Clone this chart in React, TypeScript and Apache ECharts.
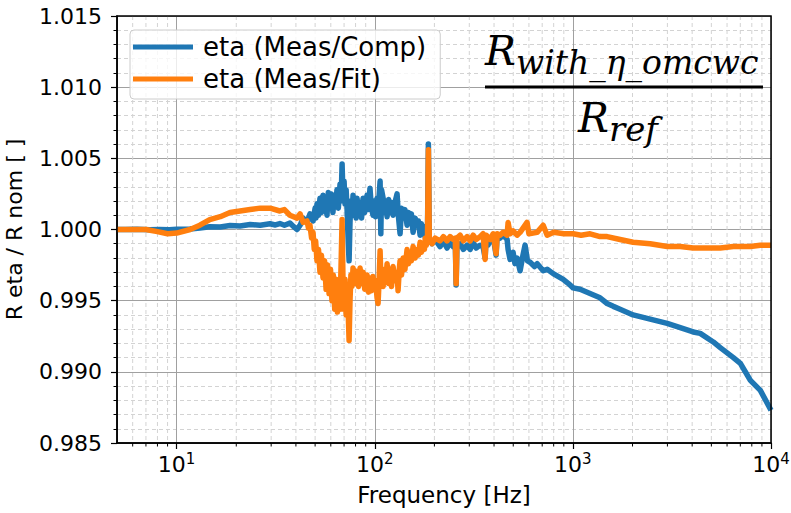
import React, { useEffect, useRef } from "react";
import * as echarts from "echarts";

// ---------- data ----------
const seriesNames = ["eta (Meas/Comp)", "eta (Meas/Fit)"];

// [frequency Hz, R eta / R nom]
const measComp: [number, number][] = [
  [5, 1.0], [5.5, 1.0], [6.3, 1.00002], [7.3, 0.99998], [8.2, 1.0], [9.2, 0.99998],
  [10, 1.00002], [11.7, 1.00003], [13.1, 1.0001], [14.7, 1.0002], [16.6, 1.00018],
  [18.6, 1.00028], [20.9, 1.00025], [23.5, 1.00035], [26.4, 1.0003], [29.6, 1.0004],
  [31.5, 1.00032], [33.2, 1.00042], [35.0, 1.0003], [37.3, 1.00045], [39.0, 1.0002],
  [40.5, 1.0], [42.0, 1.0003], [43.5, 1.0008], [45.5, 1.0005], [47.1, 1.0011],
  [48.8, 1.0006], [50, 1.0015], [50.5, 1.0008], [51.1, 1.0018], [52, 1.001],
  [52.9, 1.0022], [53.8, 1.0012], [54.8, 1.0024], [55.5, 1.0013], [56.2, 1.002],
  [57.4, 1.001], [58.3, 1.0026], [59.4, 1.0015], [60.4, 1.0025], [61.5, 1.0012],
  [62.3, 1.0022], [63.2, 1.0016], [64.5, 1.0028], [65.5, 1.0015], [66.8, 1.0032],
  [67.6, 1.002], [68.4, 1.0046], [69.2, 1.0022], [70, 1.0034], [70.8, 1.0018],
  [71.7, 1.0028], [72.5, 1.0014], [73.5, 0.999], [74.2, 0.9978], [75, 1.0005],
  [75.8, 1.002], [76.8, 1.0012], [77.7, 1.0024], [78.6, 1.001], [79.5, 1.002],
  [80.5, 1.0008], [81.4, 1.0022], [82.8, 1.0012], [84.3, 1.0019], [85.8, 1.0008],
  [87.3, 1.0022], [89, 1.0012], [91.4, 1.0024], [93, 1.0014], [94.6, 1.0029],
  [96.2, 1.0015], [98, 1.001], [99.5, 1.002], [101, 1.0009], [102.7, 1.0022],
  [104.5, 1.0018], [106.4, 1.0034], [107.3, 0.9997], [108.2, 1.0028], [110.2, 1.0022],
  [112, 1.0012], [113.5, 1.002], [115.4, 1.0009], [117.5, 1.0021], [119.5, 1.0012],
  [121.5, 1.0019], [123.7, 1.001], [126.5, 1.0019], [129.6, 1.0025], [131.5, 1.001],
  [134.2, 0.9997], [136.5, 1.0015], [139, 1.0008], [142, 1.0014], [145.6, 1.0003],
  [148, 1.0012], [150.7, 1.0006], [153, 1.0011], [156.1, 0.9998], [160, 1.0008],
  [163.6, 1.0003], [166, 1.0006], [169.4, 0.9996], [172, 1.0004], [175.4, 0.9998],
  [178, 1.0002], [180, 0.9994], [182, 0.9999], [184.5, 0.9997], [186.5, 1.006],
  [188.5, 0.9994], [194.7, 0.999], [201.6, 0.9993], [213.6, 0.9988], [222, 0.9992],
  [231.7, 0.9987], [240, 0.9991], [248.7, 0.9988], [255, 0.999], [257.5, 0.9961],
  [260, 0.9989], [269.6, 0.999], [280, 0.9986], [292.6, 0.9989], [303, 0.9986],
  [313.6, 0.9991], [325, 0.9987], [340, 0.9989], [352, 0.9988], [360.6, 0.998],
  [365, 0.9994], [373, 0.9989], [382, 0.9992], [395.7, 0.9995], [409.7, 0.9982],
  [415, 0.9996], [429.2, 0.9994], [444.4, 0.9996], [465.6, 0.9993], [471, 0.9986],
  [482, 0.9979], [499, 0.9984], [510, 0.9976], [522.8, 0.998], [541.5, 0.9971],
  [560, 0.9982], [573.7, 0.9989], [590, 0.9978], [608.4, 0.9977], [640, 0.9974],
  [660.7, 0.9976], [708, 0.9971], [741.8, 0.9972], [795.5, 0.9969], [893.5, 0.9965],
  [950, 0.9962], [1003, 0.9959], [1087, 0.9958], [1221, 0.9955], [1371, 0.9952],
  [1489, 0.9948], [1600, 0.9946], [1730, 0.9944], [2014, 0.994], [2455, 0.9937],
  [2992, 0.9934], [3482, 0.9931], [4050, 0.9928], [4393, 0.9927], [5113, 0.9921],
  [5545, 0.9917], [6457, 0.991], [7004, 0.9906], [7870, 0.9894], [8833, 0.9887],
  [10000, 0.9873],
];

const measFit: [number, number][] = [
  [5, 1.0], [6, 1.0], [7, 1.0], [8, 0.99985], [9, 0.9997], [10, 0.99975],
  [11.7, 1.0], [13.1, 1.0003], [14.7, 1.0007], [16.6, 1.0009], [18.6, 1.0012],
  [20.9, 1.0013], [23.5, 1.0014], [26.4, 1.0015], [29.6, 1.0015], [33.2, 1.0013],
  [35, 1.0014], [37.3, 1.001], [40.5, 1.0008], [42, 1.0011], [43.5, 1.0005],
  [45.5, 1.0006], [46.3, 1.0001], [47.1, 1.0003], [48, 0.9994], [48.8, 0.9998],
  [49.5, 0.9986], [50.3, 0.9992], [51.1, 0.9978], [52, 0.9986], [52.9, 0.997],
  [53.8, 0.9982], [54.8, 0.9966], [55.8, 0.9978], [56.8, 0.9958], [57.8, 0.9975],
  [58.8, 0.9955], [59.8, 0.9972], [60.8, 0.995], [61.8, 0.9968], [62.8, 0.9944],
  [63.8, 0.9965], [64.8, 0.9942], [65.8, 0.9962], [66.8, 0.9944], [67.6, 0.9975],
  [68.4, 1.0007], [69.2, 0.996], [70, 0.9944], [70.8, 0.9965], [71.7, 0.994],
  [72.5, 0.9958], [73.5, 0.994], [74.2, 0.9922], [75, 0.995], [75.8, 0.9968],
  [76.8, 0.996], [77.7, 0.9973], [78.6, 0.9963], [79.5, 0.9971], [80.5, 0.9962],
  [81.4, 0.9968], [82.8, 0.996], [84.3, 0.9973], [85.8, 0.9962], [87.3, 0.997],
  [89, 0.9958], [91.4, 0.9968], [93, 0.9956], [94.6, 0.9966], [96.2, 0.9957],
  [98, 0.9967], [99.5, 0.9958], [101, 0.9964], [102.7, 0.9952], [103.9, 0.9948],
  [105, 0.9962], [106.4, 0.9985], [107.5, 0.9962], [108.5, 0.9972], [110.2, 0.996],
  [112, 0.9972], [113.5, 0.9963], [115.4, 0.9976], [117.5, 0.9962], [119.5, 0.9972],
  [121.5, 0.996], [123.7, 0.9974], [126.5, 0.9964], [129.6, 0.997], [131.1, 0.9957],
  [133, 0.9972], [134.2, 0.9978], [136.5, 0.9968], [139, 0.998], [142, 0.9972],
  [145.6, 0.9986], [148, 0.9976], [150.7, 0.9983], [153, 0.9978], [156.1, 0.9988],
  [160, 0.998], [163.6, 0.9986], [166, 0.9982], [169.4, 0.9991], [172, 0.9984],
  [175.4, 0.999], [178, 0.9986], [180, 0.9994], [182, 0.9989], [184.5, 0.9992],
  [186.5, 1.0056], [188.5, 0.9994], [194.7, 0.999], [201.6, 0.9994], [213.6, 0.9992],
  [222, 0.9995], [231.7, 0.9992], [240, 0.9995], [248.7, 0.9993], [255, 0.9994],
  [257.5, 0.9962], [260, 0.9994], [269.6, 0.9996], [280, 0.9992], [292.6, 0.9995],
  [303, 0.9992], [313.6, 0.9996], [325, 0.9993], [340, 0.9995], [352, 0.9997],
  [360.6, 0.9979], [365, 0.9996], [382, 0.9993], [395.7, 0.9997], [409.7, 0.9983],
  [415, 0.9997], [429.2, 0.9996], [444.4, 0.9998], [465.6, 0.9996], [471, 1.0005],
  [482, 0.9997], [499, 0.9999], [522.8, 0.9996], [541.5, 0.9998], [587, 1.0005],
  [600, 0.9997], [660, 0.9998], [708, 1.0003], [741.8, 0.9996], [800, 0.9998],
  [900, 0.9997], [1003, 0.9997], [1100, 0.9996], [1221, 0.9997], [1371, 0.9995],
  [1489, 0.9995], [1730, 0.9993], [2014, 0.9991], [2455, 0.999], [2992, 0.9988],
  [3482, 0.9988], [4050, 0.9987], [4393, 0.9987], [5113, 0.9987], [5545, 0.9987],
  [6457, 0.9988], [7004, 0.9988], [7870, 0.9988], [8833, 0.9989], [10000, 0.9989],
];

const xMinorTicks = [6, 7, 8, 9, 20, 30, 40, 50, 60, 70, 80, 90, 200, 300, 400, 500, 600, 700, 800, 900, 2000, 3000, 4000, 5000, 6000, 7000, 8000, 9000];
const X_MIN = 5;
const X_MAX = 10000;
const Y_MIN = 0.985;
const Y_MAX = 1.015;
const Y_STEP = 0.005;

const FONT = "DejaVu Sans";
const MATH_FONT = "DejaVu Serif";

export default function App() {
  const ref = useRef<HTMLDivElement>(null);

  useEffect(() => {
    if (!ref.current) return;
    const chart = echarts.init(ref.current, null, { renderer: "svg" });

    const option: any = {
      animation: false,
      backgroundColor: "#ffffff",
      textStyle: { fontFamily: FONT, color: "#000" },
      grid: {
        left: 117,
        top: 16,
        width: 654,
        height: 427,
        containLabel: false,
        outerBoundsMode: "none",
        show: true,
        borderColor: "#000",
        borderWidth: 1.5,
        backgroundColor: "transparent",
        z: 3,
      },
      legend: {
        data: seriesNames,
        orient: "vertical",
        left: 130,
        top: 30,
        icon: "rect",
        itemWidth: 60,
        itemHeight: 5,
        itemGap: 6,
        padding: [4, 14, 7, 3],
        backgroundColor: "rgba(255,255,255,0.8)",
        borderColor: "#cccccc",
        borderWidth: 1,
        borderRadius: 4,
        selectedMode: false,
        textStyle: { fontFamily: FONT, fontSize: 26, color: "#000", padding: [0, 0, 0, 5] },
      },
      xAxis: {
        type: "log",
        logBase: 10,
        min: X_MIN,
        max: X_MAX,
        name: "Frequency [Hz]",
        nameLocation: "middle",
        nameGap: 40,
        nameTextStyle: { fontFamily: FONT, fontSize: 23, color: "#000" },
        axisLine: { show: true, lineStyle: { color: "#000", width: 1.5 } },
        axisTick: { show: true, length: 6, lineStyle: { color: "#000", width: 1.2 } },
        axisLabel: {
          showMinLabel: false,
          showMaxLabel: true,
          margin: 8,
          fontFamily: FONT,
          fontSize: 22,
          color: "#000",
          formatter: (v: number) => `10{sup|${Math.round(Math.log10(v))}}`,
          rich: {
            sup: { fontFamily: FONT, fontSize: 15, color: "#000", padding: [0, 0, 12, 0] },
          },
        },
        splitLine: { show: true, lineStyle: { color: "#a0a0a0", width: 1 } },
      },
      yAxis: {
        type: "value",
        min: Y_MIN,
        max: Y_MAX,
        interval: Y_STEP,
        name: "R eta / R nom [ ]",
        nameLocation: "middle",
        nameGap: 92,
        nameRotate: 90,
        nameTextStyle: { fontFamily: FONT, fontSize: 22, color: "#000" },
        axisLine: { show: true, lineStyle: { color: "#000", width: 1.5 } },
        axisTick: { show: true, length: 6, lineStyle: { color: "#000", width: 1.2 } },
        minorTick: { show: true, splitNumber: 5, length: 3.5, lineStyle: { color: "#000", width: 1 } },
        minorSplitLine: { show: true, lineStyle: { color: "#d3d3d3", width: 1, type: [4, 3] } },
        axisLabel: {
          margin: 15,
          fontFamily: FONT,
          fontSize: 22,
          color: "#000",
          formatter: (v: number) => v.toFixed(3),
        },
        splitLine: { show: true, lineStyle: { color: "#a0a0a0", width: 1 } },
      },
      series: [
        {
          name: "minor",
          type: "custom",
          silent: true,
          z: 1,
          data: xMinorTicks.map((f) => [f, 1]),
          encode: { x: 0, y: 1 },
          renderItem: (_params: any, api: any) => {
            const x = api.value(0);
            const top = api.coord([x, Y_MAX]);
            const bot = api.coord([x, Y_MIN]);
            return {
              type: "group",
              children: [
                {
                  type: "line",
                  shape: { x1: top[0], y1: top[1], x2: bot[0], y2: bot[1] },
                  style: { stroke: "#d3d3d3", lineWidth: 1, lineDash: [4, 3] },
                },
                {
                  type: "line",
                  shape: { x1: bot[0], y1: bot[1], x2: bot[0], y2: bot[1] + 3.5 },
                  style: { stroke: "#000", lineWidth: 1 },
                },
              ],
            };
          },
        },
        {
          name: seriesNames[0],
          type: "line",
          data: measComp,
          showSymbol: false,
          symbol: "none",
          z: 2,
          color: "#1f77b4",
          lineStyle: { color: "#1f77b4", width: 5.5, join: "round" },
        },
        {
          name: seriesNames[1],
          type: "line",
          data: measFit,
          showSymbol: false,
          symbol: "none",
          z: 2,
          color: "#ff7f0e",
          lineStyle: { color: "#ff7f0e", width: 5.5, join: "round" },
        },
      ],
      graphic: [
        {
          type: "text",
          z: 10,
          style: { text: "R", x: 485, y: 51, font: `italic 41px '${MATH_FONT}'`, fill: "#000", verticalAlign: "middle" },
        },
        {
          type: "text",
          z: 10,
          style: { text: "with_η_omcwc", x: 516, y: 62, font: `italic 33px '${MATH_FONT}'`, fill: "#000", verticalAlign: "middle" },
        },
        {
          type: "line",
          z: 10,
          shape: { x1: 485, y1: 87, x2: 763, y2: 87 },
          style: { stroke: "#000", lineWidth: 3 },
        },
        {
          type: "text",
          z: 10,
          style: { text: "R", x: 578, y: 118, font: `italic 41px '${MATH_FONT}'`, fill: "#000", verticalAlign: "middle" },
        },
        {
          type: "text",
          z: 10,
          style: { text: "ref", x: 609, y: 129, font: `italic 34px '${MATH_FONT}'`, fill: "#000", verticalAlign: "middle" },
        },
      ],
    };

    chart.setOption(option);
    return () => chart.dispose();
  }, []);

  return <div ref={ref} style={{ width: 791, height: 513, position: "absolute", left: 0, top: 0 }} />;
}
